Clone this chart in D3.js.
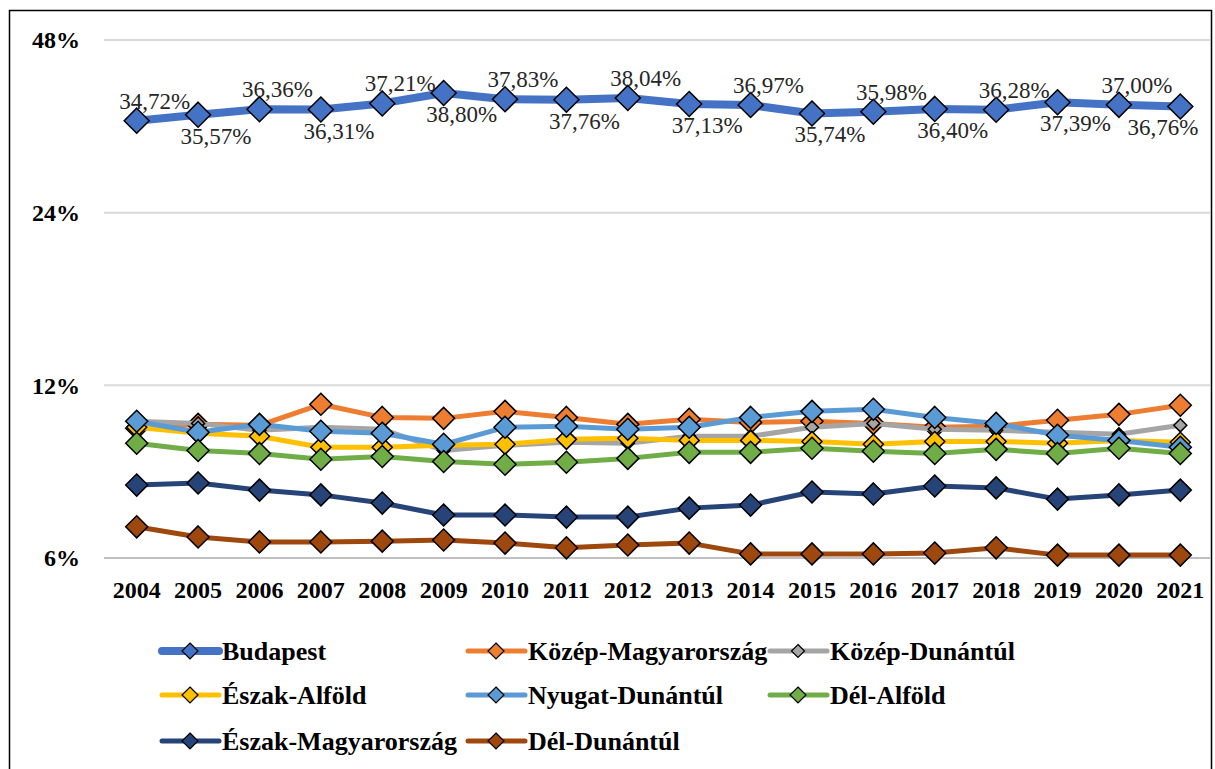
<!DOCTYPE html>
<head>
  <meta charset="utf-8">
  <script src="https://d3js.org/d3.v7.min.js"></script>
  <style>
    body { margin: 0; background: #fff; }
    text { font-family: "Liberation Serif", "Times New Roman", serif; }
    .tick-label { font-weight: bold; font-size: 24px; fill: #000; }
    .legend text { font-weight: bold; font-size: 26px; fill: #000; }
    .val { font-size: 23px; fill: #262626; }
  </style>
</head>
<body>
<script>
  // years on the category axis
  var years = d3.range(2004, 2022).map(String);

  var budapest          = [34.72, 35.57, 36.36, 36.31, 37.21, 38.80, 37.83, 37.76, 38.04, 37.13, 36.97, 35.74, 35.98, 36.40, 36.28, 37.39, 37.00, 36.76];
  var kozepMagyar       = [10.10, 10.26, 10.22, 11.12, 10.55, 10.51, 10.81, 10.55, 10.26, 10.47, 10.34, 10.39, 10.30, 10.14, 10.18, 10.43, 10.68, 11.08];
  var kozepDunantul     = [10.39, 10.30, 10.02, 10.14, 10.06, 9.24, 9.43, 9.55, 9.51, 9.78, 9.78, 10.14, 10.30, 10.06, 10.02, 9.94, 9.86, 10.22];
  var eszakAlfold       = [10.14, 9.90, 9.78, 9.36, 9.36, 9.43, 9.47, 9.66, 9.70, 9.62, 9.62, 9.58, 9.47, 9.58, 9.58, 9.51, 9.62, 9.55];
  var nyugatDunantul    = [10.39, 9.94, 10.26, 9.98, 9.90, 9.47, 10.14, 10.18, 10.06, 10.14, 10.55, 10.81, 10.90, 10.55, 10.30, 9.82, 9.62, 9.36];
  var delAlfold         = [9.51, 9.24, 9.13, 8.92, 9.02, 8.84, 8.74, 8.81, 8.95, 9.17, 9.17, 9.32, 9.21, 9.13, 9.28, 9.13, 9.32, 9.13];
  var eszakMagyar       = [8.04, 8.11, 7.88, 7.73, 7.48, 7.13, 7.13, 7.07, 7.07, 7.33, 7.42, 7.82, 7.76, 8.01, 7.95, 7.60, 7.73, 7.88];
  var delDunantul       = [6.80, 6.53, 6.40, 6.40, 6.42, 6.45, 6.37, 6.25, 6.32, 6.37, 6.10, 6.10, 6.10, 6.12, 6.25, 6.07, 6.07, 6.07];

  var yTicks = [6, 12, 24, 48];

  var series = [
    { name: "Budapest",            values: budapest,       color: "#4472C4", width: 8, size: 25 },
    { name: "Közép-Magyarország",  values: kozepMagyar,    color: "#ED7D31", width: 5, size: 22 },
    { name: "Közép-Dunántúl",      values: kozepDunantul,  color: "#A5A5A5", width: 5, size: 13 },
    { name: "Észak-Alföld",        values: eszakAlfold,    color: "#FFC000", width: 5, size: 20 },
    { name: "Nyugat-Dunántúl",     values: nyugatDunantul, color: "#5B9BD5", width: 5, size: 22 },
    { name: "Dél-Alföld",          values: delAlfold,      color: "#70AD47", width: 5, size: 22 },
    { name: "Észak-Magyarország",  values: eszakMagyar,    color: "#264478", width: 5, size: 22 },
    { name: "Dél-Dunántúl",        values: delDunantul,    color: "#9E480E", width: 5, size: 22 }
  ];

  var width = 1215, height = 769;
  var svg = d3.select("body").append("svg")
      .attr("width", width)
      .attr("height", height);

  // outer frame
  svg.append("rect")
      .attr("x", 9.5).attr("y", 10.5)
      .attr("width", 1202).attr("height", 800)
      .attr("fill", "none")
      .attr("stroke", "#000")
      .attr("stroke-width", 1.5);

  var x = d3.scalePoint()
      .domain(years)
      .range([106, 1211])
      .padding(0.5);

  var y = d3.scaleLog()
      .base(2)
      .domain([6, 48])
      .range([558, 40]);

  // gridlines
  svg.append("g").selectAll("line")
      .data(yTicks)
    .enter().append("line")
      .attr("x1", 104).attr("x2", 1210)
      .attr("y1", function(d) { return y(d); })
      .attr("y2", function(d) { return y(d); })
      .attr("stroke", function(d) { return d === 6 ? "#BFBFBF" : "#D9D9D9"; })
      .attr("stroke-width", 2);

  svg.append("g").selectAll("text")
      .data(yTicks)
    .enter().append("text")
      .attr("class", "tick-label")
      .attr("x", 80)
      .attr("y", function(d) { return y(d); })
      .attr("dy", "0.35em")
      .attr("text-anchor", "end")
      .text(function(d) { return d + "%"; });

  svg.append("g").selectAll("text")
      .data(years)
    .enter().append("text")
      .attr("class", "tick-label")
      .attr("x", function(d) { return x(d); })
      .attr("y", 598)
      .attr("text-anchor", "middle")
      .text(function(d) { return d; });

  var line = d3.line()
      .x(function(d, i) { return x(years[i]); })
      .y(function(d) { return y(d); });

  function diamond(s) {
    var h = s / 2;
    return "M0," + (-h) + "L" + h + ",0L0," + h + "L" + (-h) + ",0Z";
  }

  series.forEach(function(s) {
    var g = svg.append("g");
    g.append("path")
        .datum(s.values)
        .attr("d", line)
        .attr("fill", "none")
        .attr("stroke", s.color)
        .attr("stroke-width", s.width)
        .attr("stroke-linejoin", "round");
    g.selectAll("path.m")
        .data(s.values)
      .enter().append("path")
        .attr("class", "m")
        .attr("d", diamond(s.size))
        .attr("transform", function(d, i) {
          return "translate(" + x(years[i]) + "," + y(d) + ")";
        })
        .attr("fill", s.color)
        .attr("stroke", "#000")
        .attr("stroke-width", 1.5);
  });

  // Budapest value labels, alternating above / below, kept inside the frame
  svg.append("g").selectAll("text")
      .data(budapest)
    .enter().append("text")
      .attr("class", "val")
      .attr("x", function(d, i) { return Math.min(x(years[i]) + 18, 1163); })
      .attr("y", function(d, i) { return y(d) + (i % 2 === 0 ? -12 : 29); })
      .attr("text-anchor", "middle")
      .text(function(d) { return d.toFixed(2).replace(".", ",") + "%"; });

  // legend
  var legendPos = [
    [162, 651], [468, 651], [770, 651],
    [162, 695], [468, 695], [770, 695],
    [162, 741], [468, 741]
  ];
  var legend = svg.append("g").attr("class", "legend");
  series.forEach(function(s, i) {
    var p = legendPos[i];
    var lg = legend.append("g").attr("transform", "translate(" + p[0] + "," + p[1] + ")");
    lg.append("line")
        .attr("x1", 0).attr("x2", 57)
        .attr("stroke", s.color)
        .attr("stroke-width", s.width)
        .attr("stroke-linecap", "round");
    lg.append("path")
        .attr("d", diamond(Math.min(s.size, 16)))
        .attr("transform", "translate(28,0)")
        .attr("fill", s.color)
        .attr("stroke", "#000")
        .attr("stroke-width", 1.2);
    lg.append("text")
        .attr("x", 60)
        .attr("dy", "0.35em")
        .text(s.name);
  });
</script>
</body>
